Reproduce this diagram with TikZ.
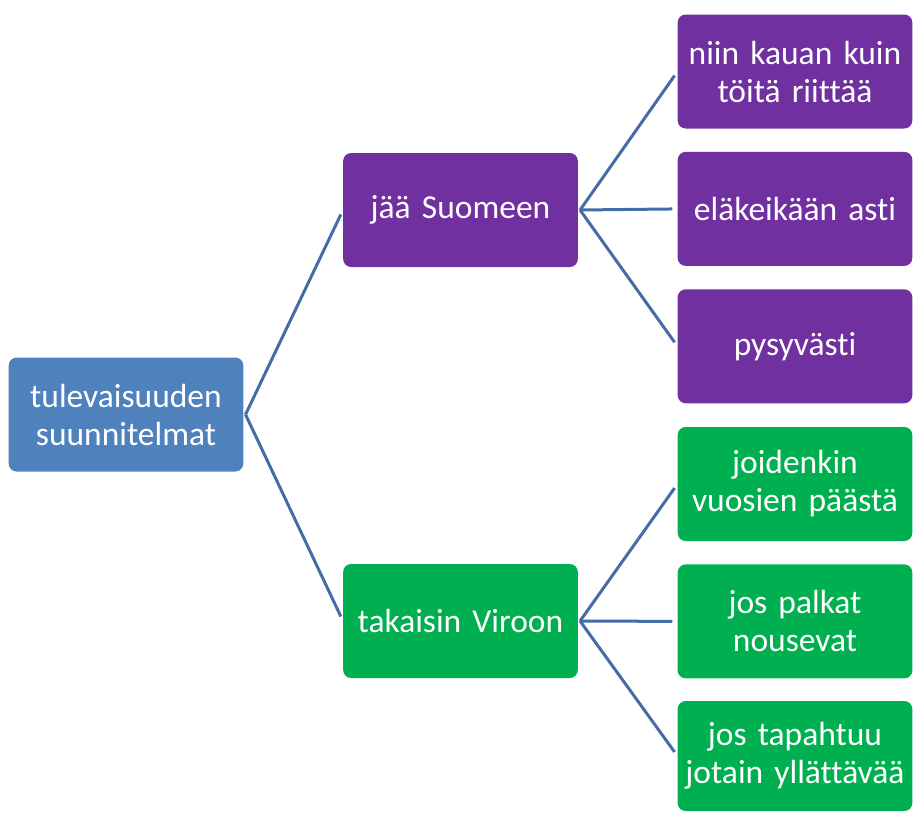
\documentclass[tikz,border=0pt]{standalone}
\usepackage{fontspec}
\setmainfont{Carlito}[Ligatures=NoCommon]
\usetikzlibrary{positioning}
\definecolor{rootblue}{RGB}{79,129,189}
\definecolor{stayviolet}{RGB}{112,48,160}
\definecolor{backgreen}{RGB}{0,176,80}
\definecolor{linkblue}{RGB}{68,108,166}

\begin{document}
\begin{tikzpicture}[
      x=1pt,y=-1pt,
      node distance=23pt,
      card/.style={rounded corners=8pt,text=white,
        minimum width=234pt,minimum height=114pt,text width=228pt,
        align=center,font=\fontsize{33.5}{38}\selectfont},
      rootcard/.style={card,fill=rootblue},
      staycard/.style={card,fill=stayviolet},
      backcard/.style={card,fill=backgreen},
      link/.style={line width=3pt,linkblue,shorten >=5pt}
    ]
      \useasboundingbox (0,0) rectangle (913,812);
      % root and the two branches
      \node[rootcard](plans) at (126,414.5){tulevaisuuden\\suunnitelmat};
      \node[staycard](stay) at (460.5,210){jää Suomeen};
      \node[backcard](back) at (460.5,621){takaisin Viroon};
      % leaves of the first branch
      \node[staycard](work) at (795,71.5){niin kauan kuin\\töitä riittää};
      \node[staycard,below=of work](pension){eläkeikään asti};
      \node[staycard,below=of pension](forever){pysyvästi};
      % leaves of the second branch
      \node[backcard](years) at (795,484){joidenkin\\vuosien päästä};
      \node[backcard,below=of years](wages){jos palkat\\nousevat};
      \node[backcard,minimum height=110pt](surprise) at (795,756){jos tapahtuu\\jotain yllättävää};

      \draw[link]([xshift=2pt]plans.east)--(stay.west);
      \draw[link]([xshift=2pt]plans.east)--(back.west);
      \draw[link]([xshift=2pt]stay.east)--(work.west);
      \draw[link]([xshift=2pt]stay.east)--(pension.west);
      \draw[link]([xshift=2pt]stay.east)--(forever.west);
      \draw[link]([xshift=2pt]back.east)--(years.west);
      \draw[link]([xshift=2pt]back.east)--(wages.west);
      \draw[link]([xshift=2pt]back.east)--(surprise.west);
    \end{tikzpicture}
\end{document}
